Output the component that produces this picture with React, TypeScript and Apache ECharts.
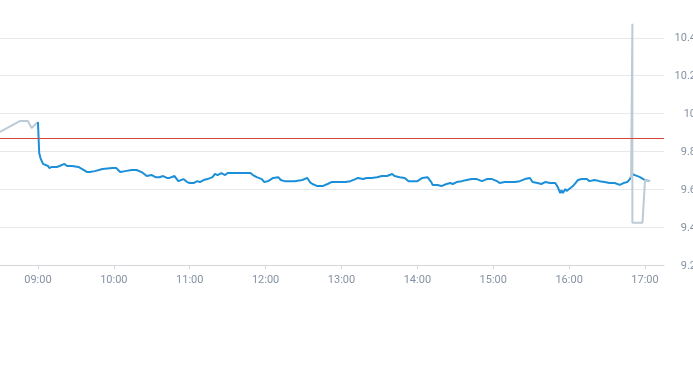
import React, { useEffect, useRef } from "react";
import * as echarts from "echarts";

// Intraday price (regular session)
const mainTimes = [
  "09:00", "09:01", "09:02", "09:04", "09:08", "09:09", "09:11", "09:15", "09:17", "09:21",
  "09:23", "09:27", "09:32", "09:35", "09:39", "09:41", "09:45", "09:51", "09:59", "10:02",
  "10:05", "10:09", "10:14", "10:18", "10:22", "10:26", "10:30", "10:33", "10:36", "10:39",
  "10:42", "10:44", "10:48", "10:51", "10:55", "10:58", "11:00", "11:03", "11:06", "11:08",
  "11:11", "11:14", "11:18", "11:20", "11:22", "11:25", "11:28", "11:30", "11:34", "11:40",
  "11:44", "11:48", "11:50", "11:53", "11:57", "11:59", "12:02", "12:06", "12:10", "12:12",
  "12:15", "12:19", "12:23", "12:29", "12:33", "12:35", "12:37", "12:41", "12:45", "12:49",
  "12:52", "12:56", "13:03", "13:07", "13:11", "13:13", "13:17", "13:20", "13:24", "13:28",
  "13:32", "13:36", "13:40", "13:42", "13:46", "13:50", "13:53", "13:56", "14:00", "14:04",
  "14:08", "14:11", "14:12", "14:16", "14:19", "14:23", "14:26", "14:28", "14:31", "14:35",
  "14:39", "14:43", "14:47", "14:51", "14:55", "14:59", "15:03", "15:05", "15:09", "15:13",
  "15:17", "15:21", "15:25", "15:29", "15:31", "15:35", "15:38", "15:41", "15:45", "15:49",
  "15:51", "15:53", "15:54", "15:55", "15:57", "15:58", "16:01", "16:03", "16:05", "16:07",
  "16:10", "16:14", "16:16", "16:20", "16:24", "16:28", "16:32", "16:36", "16:40", "16:43",
  "16:46", "16:48", "16:50", "16:52", "16:56", "17:00", "17:04",
];
const mainValues = [
  9.955, 9.792, 9.765, 9.734, 9.723, 9.712, 9.718, 9.718, 9.723, 9.734,
  9.723, 9.723, 9.718, 9.707, 9.691, 9.691, 9.696, 9.707, 9.712, 9.712,
  9.691, 9.696, 9.702, 9.702, 9.691, 9.670, 9.675, 9.664, 9.664, 9.670,
  9.660, 9.660, 9.670, 9.643, 9.654, 9.638, 9.633, 9.633, 9.643, 9.638,
  9.649, 9.654, 9.664, 9.681, 9.675, 9.686, 9.675, 9.686, 9.686, 9.686,
  9.686, 9.686, 9.675, 9.664, 9.654, 9.638, 9.643, 9.660, 9.664, 9.649,
  9.643, 9.643, 9.643, 9.649, 9.660, 9.638, 9.628, 9.617, 9.617, 9.628,
  9.638, 9.638, 9.638, 9.643, 9.654, 9.660, 9.654, 9.660, 9.660, 9.664,
  9.670, 9.670, 9.681, 9.670, 9.664, 9.660, 9.643, 9.643, 9.643, 9.660,
  9.664, 9.638, 9.623, 9.623, 9.617, 9.628, 9.633, 9.628, 9.638, 9.643,
  9.649, 9.654, 9.654, 9.643, 9.654, 9.654, 9.643, 9.633, 9.638, 9.638,
  9.638, 9.643, 9.654, 9.660, 9.638, 9.633, 9.628, 9.638, 9.633, 9.633,
  9.612, 9.580, 9.596, 9.580, 9.601, 9.591, 9.607, 9.617, 9.633, 9.649,
  9.654, 9.654, 9.643, 9.649, 9.643, 9.638, 9.633, 9.633, 9.623, 9.633,
  9.638, 9.654, 9.681, 9.675, 9.664, 9.649, 9.643,
];

// Extended hours (pre-market and after-hours)
const preTimes = ["08:30", "08:46", "08:52", "08:55", "08:59", "09:00"];
const preValues = [9.903, 9.961, 9.961, 9.924, 9.95, 9.955];
const postTimes = ["16:49", "16:50", "16:50", "16:58", "17:00", "17:04"];
const postValues = [9.66, 10.475, 9.423, 9.423, 9.649, 9.643];

const prevClose = 9.874;

const hourTicks = ["09:00", "10:00", "11:00", "12:00", "13:00", "14:00", "15:00", "16:00", "17:00"];
const priceTicks = [9.2, 9.4, 9.6, 9.8, 10, 10.2, 10.4];

const toMin = (s: string) => {
  const [h, m] = s.split(":").map(Number);
  return h * 60 + m;
};
const fmt = (v: number) => {
  const h = Math.floor(v / 60);
  const m = Math.round(v % 60);
  return `${String(h).padStart(2, "0")}:${String(m).padStart(2, "0")}`;
};
const pairs = (t: string[], v: number[]) => t.map((s, i) => [toMin(s), v[i]]);

export default function App() {
  const ref = useRef<HTMLDivElement>(null);
  useEffect(() => {
    if (!ref.current) return;
    const chart = echarts.init(ref.current, null, { renderer: "svg" });
    const hourVals = hourTicks.map(toMin);
    chart.setOption({
      animation: false,
      grid: { left: 0, right: 29, top: 0, bottom: 100, containLabel: false, outerBoundsMode: "none" },
      xAxis: {
        type: "value",
        min: toMin("08:30"),
        max: toMin("17:15"),
        axisLine: { show: true, lineStyle: { color: "#d3d7dc", width: 1 } },
        axisTick: { show: true, customValues: hourVals, length: 4, lineStyle: { color: "#d3d7dc" } },
        axisLabel: {
          customValues: hourVals,
          formatter: (v: number) => fmt(v),
          color: "#8592a3",
          fontSize: 11,
          fontFamily: "Roboto, Arial, sans-serif",
          margin: 9,
        },
        splitLine: { show: false },
      },
      yAxis: {
        type: "value",
        position: "right",
        min: 9.2,
        max: 10.6,
        interval: 0.2,
        axisLine: { show: false },
        axisTick: { show: false },
        axisLabel: {
          customValues: priceTicks,
          formatter: (v: number) => String(Math.round(v * 10) / 10),
          align: "right",
          margin: 32,
          color: "#8592a3",
          fontSize: 11,
          fontFamily: "Roboto, Arial, sans-serif",
        },
        splitLine: { show: true, showMaxLine: false, lineStyle: { color: "#e6e8eb", width: 1 } },
      },
      series: [
        {
          type: "line",
          data: pairs(mainTimes, mainValues),
          showSymbol: false,
          symbol: "none",
          lineStyle: { color: "#1b8fd8", width: 2 },
          z: 3,
          markLine: {
            silent: true,
            symbol: ["none", "none"],
            label: { show: false },
            lineStyle: { color: "#d6453a", width: 1, type: "solid" },
            data: [{ yAxis: prevClose }],
          },
        },
        {
          type: "line",
          data: pairs(preTimes, preValues),
          showSymbol: false,
          symbol: "none",
          lineStyle: { color: "#bccbd6", width: 2 },
          z: 2,
        },
        {
          type: "line",
          data: pairs(postTimes, postValues),
          showSymbol: false,
          symbol: "none",
          lineStyle: { color: "#bccbd6", width: 2 },
          z: 4,
        },
      ],
    });
    return () => chart.dispose();
  }, []);
  return (
    <div
      ref={ref}
      style={{ position: "fixed", left: 0, top: 0, width: 693, height: 365 }}
    />
  );
}
